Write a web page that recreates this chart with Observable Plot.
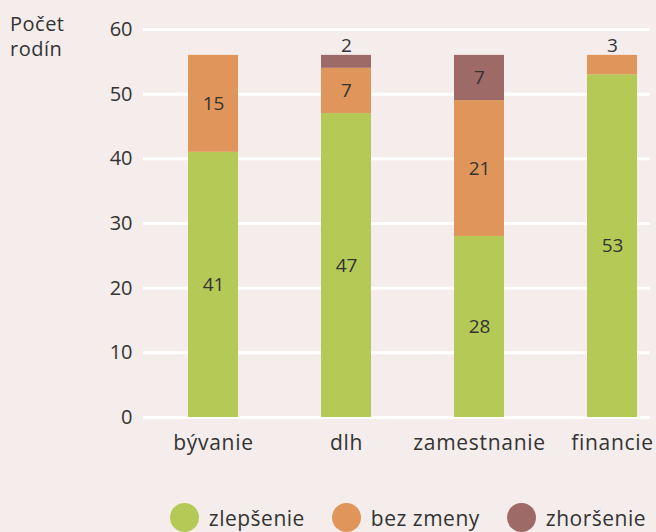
<!DOCTYPE html>
<html>
<head>
<meta charset="utf-8">
<script src="https://cdn.jsdelivr.net/npm/d3@7"></script>
<script src="https://cdn.jsdelivr.net/npm/@observablehq/plot@0.6"></script>
<style>
  html, body { margin: 0; padding: 0; background: #f4edeb; }
  body { width: 656px; height: 532px; position: relative; overflow: hidden; font-family: "Open Sans", sans-serif; color: #333; }
  #ylabel { position: absolute; left: 10px; top: 11px; font-size: 20px; line-height: 25px; letter-spacing: 0.5px; color: #333; }
  #legend { position: absolute; left: 0; right: 10px; top: 503px; display: flex; justify-content: flex-end; align-items: center; font-size: 21px; letter-spacing: 0.5px; color: #333; }
  .item { display: flex; align-items: center; margin-left: 27px; }
  .dot { width: 29px; height: 29px; border-radius: 50%; margin-right: 10px; }
  .xaxis text { letter-spacing: 0.7px; }
</style>
</head>
<body>
<div id="chart"></div>
<div id="ylabel">Počet<br>rodín</div>
<div id="legend"></div>
<script>
const categories = ["bývanie", "dlh", "zamestnanie", "financie"];
const series = ["zlepšenie", "bez zmeny", "zhoršenie"];
const colors = ["#b5c957", "#e0965a", "#9e6a68"];
const zlepsenie = [41, 47, 28, 53];
const bezZmeny = [15, 7, 21, 3];
const zhorsenie = [0, 2, 7, 0];
const yTicks = [0, 10, 20, 30, 40, 50, 60];

const values = [zlepsenie, bezZmeny, zhorsenie];
const rows = [];
categories.forEach((c, i) => {
  series.forEach((s, j) => {
    if (values[j][i] > 0) rows.push({category: c, series: s, value: values[j][i]});
  });
});

const plot = Plot.plot({
  width: 656,
  height: 472,
  marginLeft: 143,
  marginRight: 6,
  marginTop: 29,
  marginBottom: 55,
  style: {background: "#f4edeb", fontFamily: "Open Sans, sans-serif", fontSize: "19px", color: "#333"},
  x: {domain: categories, paddingInner: 0.626, paddingOuter: 0.209, align: 0.77, label: null},
  y: {domain: [0, 60], label: null},
  color: {domain: series, range: colors},
  marks: [
    Plot.ruleY(yTicks, {stroke: "#ffffff", strokeWidth: 3}),
    Plot.axisY({ticks: yTicks, tickSize: 0, tickPadding: 11, label: null, fontSize: 20, fill: "#333"}),
    Plot.axisX({tickSize: 0, tickPadding: 18, label: null, fontSize: 21, fill: "#333", className: "xaxis"}),
    Plot.barY(rows, Plot.stackY({x: "category", y: "value", fill: "series", z: "series"})),
    Plot.text(rows, Plot.stackY({x: "category", y: "value", z: "series",
      text: d => d.value >= 5 ? String(d.value) : null, fill: "#333", fontSize: 19})),
    Plot.text(rows, Plot.stackY2({x: "category", y: "value", z: "series",
      text: d => d.value < 5 ? String(d.value) : null, fill: "#333", fontSize: 19, lineAnchor: "bottom", dy: -3}))
  ]
});
document.getElementById("chart").appendChild(plot);

const legend = document.getElementById("legend");
series.forEach((s, j) => {
  const item = document.createElement("div");
  item.className = "item";
  const dot = document.createElement("span");
  dot.className = "dot";
  dot.style.background = colors[j];
  const label = document.createElement("span");
  label.textContent = s;
  item.appendChild(dot);
  item.appendChild(label);
  legend.appendChild(item);
});
</script>
</body>
</html>
